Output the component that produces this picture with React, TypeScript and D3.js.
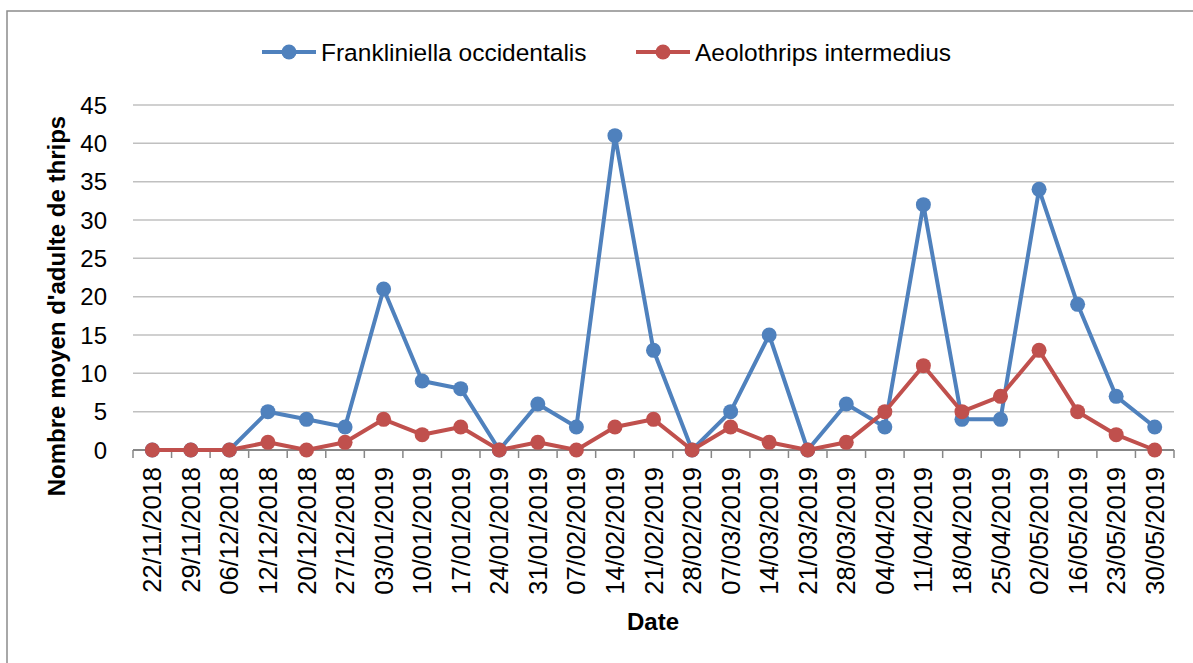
import React from 'react';
import * as d3 from 'd3';

const dates = [
  '22/11/2018', '29/11/2018', '06/12/2018', '12/12/2018', '20/12/2018', '27/12/2018',
  '03/01/2019', '10/01/2019', '17/01/2019', '24/01/2019', '31/01/2019', '07/02/2019',
  '14/02/2019', '21/02/2019', '28/02/2019', '07/03/2019', '14/03/2019', '21/03/2019',
  '28/03/2019', '04/04/2019', '11/04/2019', '18/04/2019', '25/04/2019', '02/05/2019',
  '16/05/2019', '23/05/2019', '30/05/2019',
];
const frankliniella = [0, 0, 0, 5, 4, 3, 21, 9, 8, 0, 6, 3, 41, 13, 0, 5, 15, 0, 6, 3, 32, 4, 4, 34, 19, 7, 3];
const aeolothrips = [0, 0, 0, 1, 0, 1, 4, 2, 3, 0, 1, 0, 3, 4, 0, 3, 1, 0, 1, 5, 11, 5, 7, 13, 5, 2, 0];
const yTicks = [0, 5, 10, 15, 20, 25, 30, 35, 40, 45];

const series = [
  { name: 'Frankliniella occidentalis', values: frankliniella, color: '#4f81bd' },
  { name: 'Aeolothrips intermedius', values: aeolothrips, color: '#c0504d' },
];

const W = 1193;
const H = 663;
const font = '"Liberation Sans", Arial, sans-serif';

const App: React.FC = () => {
  const x = d3.scaleBand<string>().domain(dates).range([133, 1174]);
  const y = d3.scaleLinear().domain([0, 45]).range([450, 105]);
  const cx = (d: string) => (x(d) ?? 0) + x.bandwidth() / 2;

  const line = d3.line<number>()
    .x((_, i) => cx(dates[i]))
    .y(v => y(v));

  const boundaries = dates.map(d => x(d) ?? 0).concat([1174]);
  const legendX = [262, 636];

  return (
    <svg width={W} height={H} style={{ position: 'absolute', left: 0, top: 0 }} fontFamily={font}>
      <rect x={0} y={0} width={W} height={H} fill="#fff" />
      <rect x={7} y={11} width={1300} height={800} fill="none" stroke="#8c8c8c" strokeWidth={1.5} />

      {/* gridlines */}
      {yTicks.filter(t => t > 0).map(t => (
        <line key={t} x1={133} x2={1174} y1={y(t)} y2={y(t)} stroke="#c0c0c0" strokeWidth={1.5} />
      ))}

      {/* x axis */}
      <line x1={133} x2={1174} y1={y(0)} y2={y(0)} stroke="#878787" strokeWidth={1.8} />
      {boundaries.map((b, i) => (
        <line key={i} x1={b} x2={b} y1={y(0)} y2={y(0) + 8} stroke="#878787" strokeWidth={1.5} />
      ))}

      {/* y tick labels */}
      {yTicks.map(t => (
        <text key={t} x={107} y={y(t)} dy="0.36em" textAnchor="end" fontSize={24} fill="#000">{t}</text>
      ))}

      {/* x tick labels */}
      {dates.map(d => (
        <text key={d} transform={`translate(${cx(d) + 9},467) rotate(-90)`} textAnchor="end"
          fontSize={25.5} fill="#000">{d}</text>
      ))}

      {/* series */}
      {series.map(s => (
        <g key={s.name}>
          <path d={line(s.values) ?? ''} fill="none" stroke={s.color} strokeWidth={4} strokeLinejoin="round" />
          {s.values.map((v, i) => (
            <circle key={i} cx={cx(dates[i])} cy={y(v)} r={7.5} fill={s.color} />
          ))}
        </g>
      ))}

      {/* axis titles */}
      <text transform="translate(65,306) rotate(-90)" textAnchor="middle" fontSize={24} fontWeight="bold" fill="#000">
        Nombre moyen d'adulte de thrips
      </text>
      <text x={653} y={630} textAnchor="middle" fontSize={24} fontWeight="bold" fill="#000">Date</text>

      {/* legend */}
      {series.map((s, i) => (
        <g key={s.name} transform={`translate(${legendX[i]},52)`}>
          <line x1={0} x2={54} y1={0} y2={0} stroke={s.color} strokeWidth={4} />
          <circle cx={27} cy={0} r={7.5} fill={s.color} />
          <text x={59} y={8.5} fontSize={24.5} fill="#000">{s.name}</text>
        </g>
      ))}
    </svg>
  );
};

export default App;
